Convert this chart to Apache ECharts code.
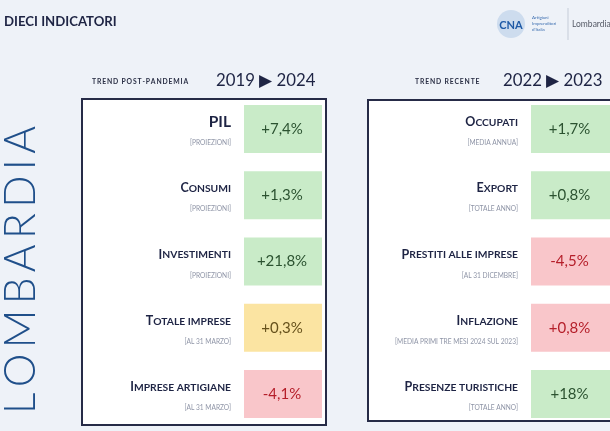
<!DOCTYPE html>
<html><head><meta charset="utf-8">
<script src="https://cdn.jsdelivr.net/npm/echarts/dist/echarts.min.js"></script>
<style>html,body{margin:0;padding:0;background:#eef2f8}#c{width:610px;height:431px}</style>
</head><body><div id="c"></div>
<script>
// ---- data ----
const leftNames = ['PIL', 'Consumi', 'Investimenti', 'Totale imprese', 'Imprese artigiane'];
const leftNotes = ['[PROIEZIONI]', '[PROIEZIONI]', '[PROIEZIONI]', '[AL 31 MARZO]', '[AL 31 MARZO]'];
const leftValues = [7.4, 1.3, 21.8, 0.3, -4.1];
const leftTones = ['pos', 'pos', 'pos', 'mid', 'neg'];

const rightNames = ['Occupati', 'Export', 'Prestiti alle imprese', 'Inflazione', 'Presenze turistiche'];
const rightNotes = ['[MEDIA ANNUA]', '[TOTALE ANNO]', '[AL 31 DICEMBRE]', '[MEDIA PRIMI TRE MESI 2024 SUL 2023]', '[TOTALE ANNO]'];
const rightValues = [1.7, 0.8, -4.5, 0.8, 18];
const rightTones = ['pos', 'pos', 'neg', 'neg', 'pos'];

const headers = ['TREND POST-PANDEMIA', 'TREND RECENTE'];
const periods = ['2019 \u25B6 2024', '2022 \u25B6 2023'];
const title = 'DIECI INDICATORI';
const region = 'LOMBARDIA';

// ---- styles ----
const TONES = {
  pos: { fill: '#c9ebc8', text: '#2b5230' },
  mid: { fill: '#fbe4a2', text: '#66511c' },
  neg: { fill: '#f9c6ca', text: '#b51f2a' }
};
const NAVY = '#1e2444';
const FONT = 'Lato, "Open Sans", sans-serif';

function fmt(v) {
  return (v > 0 ? '+' : '') + String(v).replace('.', ',') + '%';
}
function capsRich(name) {
  if (name === name.toUpperCase()) return '{p|' + name + '}';
  return '{a|' + name.charAt(0).toUpperCase() + '}{b|' + name.slice(1).toUpperCase() + '}';
}
const RICH = {
  p: { fontSize: 15.5, fontWeight: 'bold', fontFamily: FONT, fill: NAVY, verticalAlign: 'bottom' },
  a: { fontSize: 12.5, fontWeight: 'bold', fontFamily: FONT, fill: NAVY, verticalAlign: 'bottom' },
  b: { fontSize: 10.3, fontWeight: 'bold', fontFamily: FONT, fill: NAVY, verticalAlign: 'bottom', padding: [0, 0, 1, 0] }
};

function makeRender(names, notes, tones) {
  return function (params, api) {
    const i = params.dataIndex;
    const cs = params.coordSys;
    const c = api.coord([0, api.value(1)]);
    const band = api.size([0, 1])[1];
    const h = band * 0.725;
    const tone = TONES[tones[i]];
    return {
      type: 'group',
      children: [
        { type: 'rect', shape: { x: cs.x, y: c[1] - h / 2, width: cs.width, height: h }, style: { fill: tone.fill } },
        { type: 'text', style: { text: fmt(api.value(2)), x: cs.x + cs.width / 2 - 1, y: c[1], align: 'center', verticalAlign: 'middle', fill: tone.text, fontSize: 15, fontFamily: FONT } },
        { type: 'text', style: { text: capsRich(names[i]), rich: RICH, x: cs.x - 13, y: c[1] - 7, align: 'right', verticalAlign: 'middle' } },
        { type: 'text', style: { text: notes[i], x: cs.x - 13, y: c[1] + 14, align: 'right', verticalAlign: 'middle', fill: '#8e94a6', fontSize: 6.6, fontFamily: FONT } }
      ]
    };
  };
}

function spaced(s, sp) { return s.split('').join(sp); }

const chart = echarts.init(document.getElementById('c'), null, { renderer: 'canvas' });
chart.setOption({
  backgroundColor: '#eef2f8',
  animation: false,
  grid: [
    { left: 244, top: 96, width: 78, height: 331 },
    { left: 531, top: 96, width: 80, height: 331 }
  ],
  xAxis: [
    { type: 'value', gridIndex: 0, min: 0, max: 1, show: false },
    { type: 'value', gridIndex: 1, min: 0, max: 1, show: false }
  ],
  yAxis: [
    { type: 'category', gridIndex: 0, data: leftNames, inverse: true, show: false },
    { type: 'category', gridIndex: 1, data: rightNames, inverse: true, show: false }
  ],
  graphic: [
    { type: 'rect', z: 0, shape: { x: 82, y: 99, width: 244, height: 326 }, style: { fill: '#ffffff', stroke: '#262b47', lineWidth: 2 } },
    { type: 'rect', z: 0, shape: { x: 368, y: 100, width: 246, height: 321 }, style: { fill: '#ffffff', stroke: '#262b47', lineWidth: 2 } },
    { type: 'text', style: { text: title, x: 4, y: 22, verticalAlign: 'middle', fontSize: 13.2, fontWeight: 'bold', fontFamily: FONT, fill: NAVY } },
    { type: 'text', style: { text: spaced(headers[0], '\u2009'), x: 92, y: 82, verticalAlign: 'middle', fontSize: 6.8, fontWeight: 'bold', fontFamily: FONT, fill: '#2a2f45' } },
    { type: 'text', style: { text: periods[0], x: 216, y: 81, verticalAlign: 'middle', fontSize: 16.8, fontFamily: FONT, fill: NAVY } },
    { type: 'text', style: { text: spaced(headers[1], '\u2009'), x: 415, y: 82, verticalAlign: 'middle', fontSize: 6.8, fontWeight: 'bold', fontFamily: FONT, fill: '#2a2f45' } },
    { type: 'text', style: { text: periods[1], x: 503, y: 81, verticalAlign: 'middle', fontSize: 16.8, fontFamily: FONT, fill: NAVY } },
    { type: 'text', x: 21, y: 270, rotation: Math.PI / 2, style: { text: spaced(region, '\u2009'), x: 0, y: 0, align: 'center', verticalAlign: 'middle', fontSize: 42.5, fontWeight: 300, fontFamily: FONT, fill: '#1f4f8a' } },
    // logo
    { type: 'circle', shape: { cx: 511, cy: 24, r: 14 }, style: { fill: '#cddcee' } },
    { type: 'text', style: { text: 'CNA', x: 511, y: 25, align: 'center', verticalAlign: 'middle', fontSize: 11, fontWeight: 'bold', fontFamily: FONT, fill: '#1f5aa6' } },
    { type: 'text', style: { text: 'Artigiani\nImprenditori\nd\'Italia', x: 532, y: 24, verticalAlign: 'middle', fontSize: 4.5, lineHeight: 6, fontFamily: FONT, fill: '#3a6db0' } },
    { type: 'line', shape: { x1: 568, y1: 8, x2: 568, y2: 40 }, style: { stroke: '#c5ccd8', lineWidth: 1 } },
    { type: 'text', style: { text: 'Lombardia', x: 572, y: 24, verticalAlign: 'middle', fontSize: 8.5, fontFamily: FONT, fill: '#555a66' } }
  ],
  series: [
    {
      type: 'custom', xAxisIndex: 0, yAxisIndex: 0, z: 5,
      encode: { x: 0, y: 1 },
      data: leftValues.map((v, i) => [0, i, v]),
      renderItem: makeRender(leftNames, leftNotes, leftTones)
    },
    {
      type: 'custom', xAxisIndex: 1, yAxisIndex: 1, z: 5,
      encode: { x: 0, y: 1 },
      data: rightValues.map((v, i) => [0, i, v]),
      renderItem: makeRender(rightNames, rightNotes, rightTones)
    }
  ]
});
</script>
</body></html>
